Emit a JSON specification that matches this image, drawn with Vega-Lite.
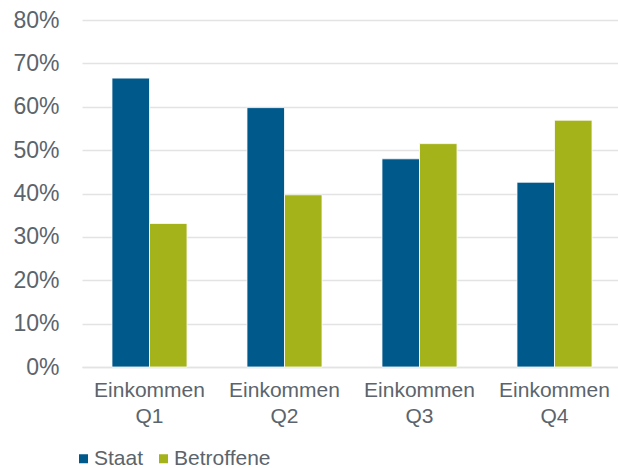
{
  "$schema": "https://vega.github.io/schema/vega-lite/v6.json",
  "autosize": "none",
  "padding": {"left": 82, "top": 20, "right": 0, "bottom": 101},
  "width": 540,
  "height": 347,
  "background": "white",
  "config": {
    "font": "Liberation Sans",
    "view": {"stroke": null}
  },
  "data": {
    "values": [
      {"group": "Einkommen Q1", "series": "Staat", "value": 0.666},
      {"group": "Einkommen Q1", "series": "Betroffene", "value": 0.331},
      {"group": "Einkommen Q2", "series": "Staat", "value": 0.598},
      {"group": "Einkommen Q2", "series": "Betroffene", "value": 0.397},
      {"group": "Einkommen Q3", "series": "Staat", "value": 0.480},
      {"group": "Einkommen Q3", "series": "Betroffene", "value": 0.515},
      {"group": "Einkommen Q4", "series": "Staat", "value": 0.426},
      {"group": "Einkommen Q4", "series": "Betroffene", "value": 0.569}
    ]
  },
  "mark": {"type": "bar", "stroke": "white", "strokeWidth": 0.8},
  "encoding": {
    "x": {
      "field": "group",
      "type": "nominal",
      "sort": null,
      "scale": {"paddingInner": 0.444, "paddingOuter": 0.222},
      "axis": {
        "title": null,
        "labelAngle": 0,
        "labelExpr": "split(datum.label, ' ')",
        "labelFontSize": 21,
        "labelLineHeight": 26,
        "labelColor": "#5b646c",
        "labelPadding": 12,
        "ticks": false,
        "domainColor": "#e3e3e3",
        "domainWidth": 1.5,
        "grid": false
      }
    },
    "xOffset": {
      "field": "series",
      "type": "nominal",
      "sort": ["Staat", "Betroffene"],
      "scale": {"paddingInner": 0.0}
    },
    "y": {
      "field": "value",
      "type": "quantitative",
      "scale": {"domain": [0, 0.8]},
      "axis": {
        "title": null,
        "format": ".0%",
        "values": [0, 0.1, 0.2, 0.3, 0.4, 0.5, 0.6, 0.7, 0.8],
        "labelFontSize": 23,
        "labelColor": "#5b646c",
        "labelPadding": 23,
        "ticks": false,
        "domain": false,
        "gridColor": "#e3e3e3",
        "gridWidth": 1.5
      }
    },
    "color": {
      "field": "series",
      "type": "nominal",
      "sort": ["Staat", "Betroffene"],
      "scale": {"domain": ["Staat", "Betroffene"], "range": ["#00598b", "#a5b31a"]},
      "legend": {
        "title": null,
        "orient": "none",
        "direction": "horizontal",
        "legendX": -9,
        "legendY": 428,
        "symbolType": "square",
        "symbolSize": 81,
        "symbolStrokeWidth": 0,
        "labelFontSize": 21,
        "labelColor": "#5b646c",
        "labelOffset": 0,
        "columnPadding": 9
      }
    }
  }
}
